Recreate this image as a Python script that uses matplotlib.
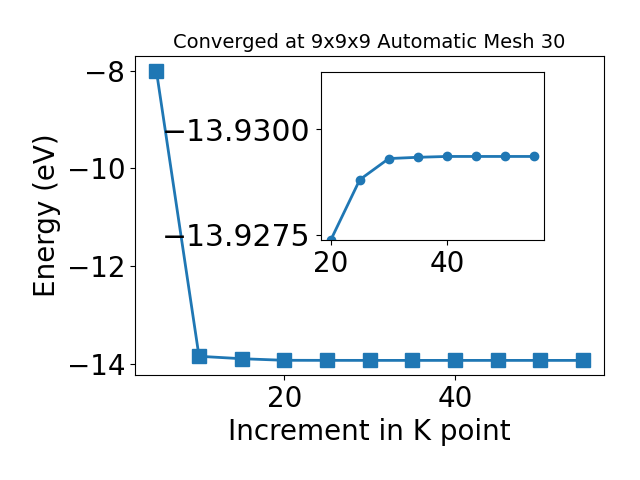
import numpy as np
import matplotlib.pyplot as plt

# k-point increments and total energies (eV)
kpoints = [5, 10, 15, 20, 25, 30, 35, 40, 45, 50, 55]
energy = [-8.0, -13.845, -13.895, -13.92738, -13.92881, -13.92931,
          -13.92934, -13.92936, -13.92936, -13.92936, -13.92936]

# zoomed region (from 20 onwards)
k_zoom = kpoints[3:]
e_zoom = energy[3:]

fig = plt.figure(figsize=(6.4, 4.8), dpi=100)
ax = fig.add_subplot(111)
fig.subplots_adjust(left=0.211, right=0.944, top=0.883, bottom=0.219)

ax.plot(kpoints, energy, marker='s', markersize=10, linewidth=2)
ax.set_title('Converged at 9x9x9 Automatic Mesh 30', fontsize=14)
ax.set_xlabel('Increment in K point', fontsize=20)
ax.set_ylabel('Energy (eV)', fontsize=20)
ax.tick_params(labelsize=20)
ax.set_xticks([20, 40])
ax.set_yticks([-8, -10, -12, -14])

# inset
axin = fig.add_axes([0.501, 0.5, 0.349, 0.349])
axin.plot(k_zoom, e_zoom, marker='o', markersize=6, linewidth=2)
axin.set_ylim(e_zoom[0], -13.93135)
axin.set_xticks([20, 40])
axin.set_yticks([-13.9300, -13.9275])
axin.yaxis.set_major_formatter(plt.FuncFormatter(lambda v, p: '\u2212%.4f' % abs(v)))
axin.tick_params(axis='x', labelsize=20)
axin.tick_params(axis='y', labelsize=21.5)

fig.savefig('out.png', dpi=100)
